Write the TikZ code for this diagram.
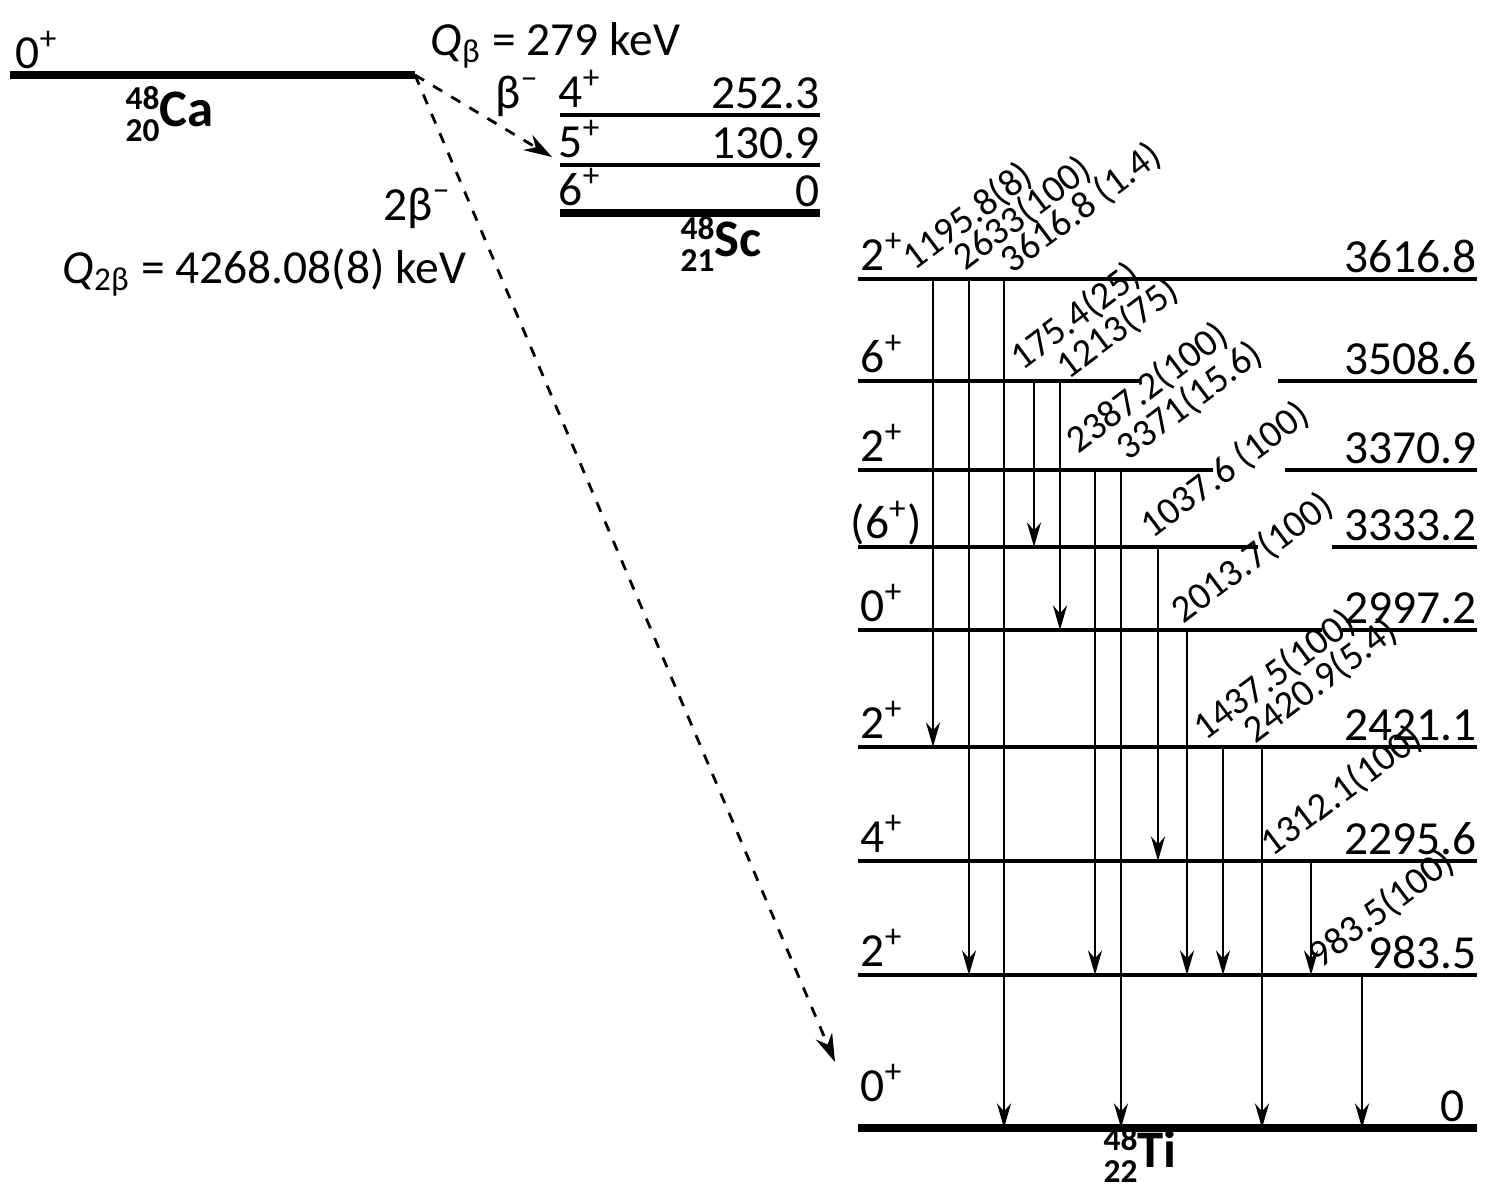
\documentclass[tikz,border=0pt]{standalone}
\usepackage{fontspec}
\setmainfont{Carlito}
\usetikzlibrary{arrows.meta}
\tikzset{
 lvl/.style={line width=1.4pt},
 lvlthick/.style={line width=2.4pt},
 lab/.style={font=\fontsize{13.5}{15}\selectfont, inner sep=0pt},
 glab/.style={font=\fontsize{11}{12}\selectfont, inner sep=0pt, anchor=base west, rotate=37},
 gam/.style={-{Stealth[length=7pt,width=4pt]}, line width=0.6pt},
 dec/.style={-{Stealth[length=8pt,width=5pt]}, dashed, line width=0.8pt}
}
\newcommand{\nucl}[3]{\bfseries{\fontsize{9.5}{10}\selectfont\rlap{\raisebox{0.5em}{#1}}\raisebox{-0.45em}{#2}}#3}
\begin{document}
\begin{tikzpicture}[x=0.01cm,y=-0.01cm]
\useasboundingbox (0,0) rectangle (1494,1200);
% Ca
\draw[lvlthick] (10,75) coordinate (ca0) -- (415,75) coordinate (ca);
\node[lab,anchor=base west] (ca0l) at (15,68) {0\textsuperscript{+}};
\node[lab,font=\fontsize{15}{17}\selectfont,anchor=base west] (caN) at (125,126) {\nucl{48}{20}{Ca}};
\node[lab,anchor=base west] (qb) at (430,55) {\textit{Q}\textsubscript{β} = 279 keV};
\node[lab,anchor=base west] (bm) at (495,108) {β\textsuperscript{−}};
% Sc
\foreach \y/\j/\e/\n in {115/4/252.3/a,165/5/130.9/b}{
 \draw[lvl] (560,\y) coordinate (sc\n) -- (820,\y);
 \node[lab,anchor=base west] at (558,\y-8) {\j\textsuperscript{+}};
 \node[lab,anchor=base east] at (820,\y-7) {\e};
}
\draw[lvlthick] (560,213) coordinate (scc) -- (820,213);
\node[lab,anchor=base west] at (558,205) {6\textsuperscript{+}};
\node[lab,anchor=base east] at (820,206) {0};
\node[lab,font=\fontsize{15}{17}\selectfont,anchor=base west] (scN) at (680,256) {\nucl{48}{21}{Sc}};
\coordinate (scend) at (552,157);
\draw[dec] (ca) -- (scend);
\coordinate (tiend) at (835,1062);
\draw[dec] (ca) -- (tiend);
\node[lab,anchor=base west] (bb) at (383,220) {2β\textsuperscript{−}};
\node[lab,anchor=base west] (q2b) at (62,283) {\textit{Q}\textsubscript{2β} = 4268.08(8) keV};
% Ti levels
\foreach \y/\e in {279/3616.8,381/3508.6,470/3370.9,547/3333.2,630/2997.2,747/2421.1,861/2295.6,975/983.5}{
 \node[lab,anchor=base east] at (1477,\y-7) {\e};
}
\foreach \y/\j in {279/2,381/6,470/2,630/0,747/2,861/4,975/2,1110/0}{
 \node[lab,anchor=base west] at (860,\y-9) {\j\textsuperscript{+}};
}
\node[lab,anchor=base west] at (850,538) {(6\textsuperscript{+})};
\node[lab,anchor=base east] at (1465,1121) {0};
\draw[lvl] (858,279) -- (1477,279);
\draw[lvl] (858,381) -- (1140,381) (1278,381) -- (1477,381);
\draw[lvl] (858,470) -- (1213,470) (1285,470) -- (1477,470);
\draw[lvl] (858,547) -- (1258,547) (1332,547) -- (1477,547);
\draw[lvl] (858,630) -- (1322,630) (1342,630) -- (1477,630);
\draw[lvl] (858,747) -- (1477,747);
\draw[lvl] (858,861) -- (1477,861);
\draw[lvl] (858,975) -- (1477,975);
\draw[lvlthick] (858,1128) -- (1477,1128);
\node[lab,font=\fontsize{15}{17}\selectfont,anchor=base west] (tiN) at (1103,1167) {\nucl{48}{22}{Ti}};
% gammas
\foreach \x/\a/\b in {933/279/747,969/279/975,1004/279/1128,1034/381/547,1060/381/630,1095/470/975,1121/470/1128,1158/547/861,1187/630/975,1223/747/975,1262/747/1128,1311/861/975,1362/975/1128}{
 \draw[gam] (\x,\a) -- (\x,\b);
}
\foreach \x/\y/\t in {914/272/1195.8(8),965/272/2633(100),1012/275/3616.8 (1.4),1022/372/175.4(25),1068/381/1213(75),1078/455/2387.2(100),1128/462/3371(15.6),1152/540/1037.6 (100),1183/625/2013.7(100),1205/742/1437.5(100),1255/745/2420.9(5.4),1272/858/1312.1(100),1320/970/983.5(100)}{
 \node[glab] at (\x,\y) {\t};
}
\end{tikzpicture}
\end{document}
